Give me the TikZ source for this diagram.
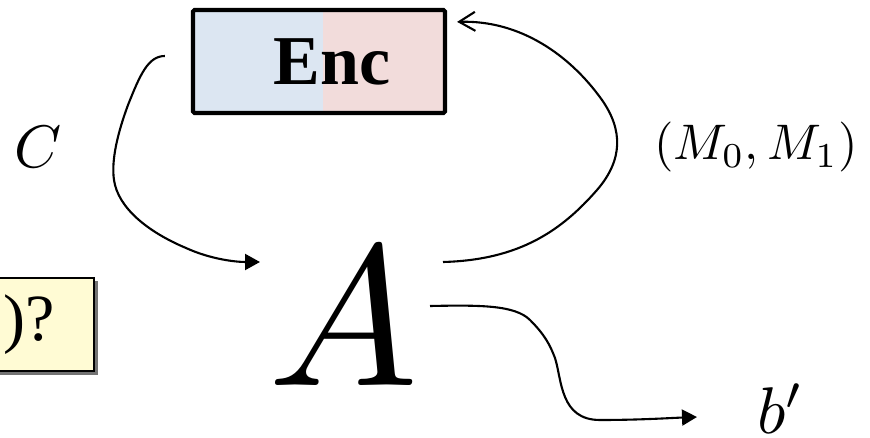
\documentclass[tikz,border=0pt]{standalone}
\usepackage{graphicx}
\usepackage{fontspec}
\setmainfont{Liberation Serif}
\usetikzlibrary{arrows.meta,calc}
\definecolor{encblue}{HTML}{DCE6F2}
\definecolor{encpink}{HTML}{F2DCDB}
\definecolor{qyellow}{HTML}{FFFBD4}
\tikzset{
  conn/.style={line width=2.1pt},
  filledtip/.style={-{Triangle[length=15pt,width=16pt]}},
  opentip/.style={-{Straight Barb[length=16pt,width=19pt,line width=2.1pt]}},
  encbox/.style={draw, line width=4.2pt, rounded corners=1.5pt, minimum width=252pt, minimum height=103pt, inner sep=0pt,
    path picture={
      \fill[encblue] (path picture bounding box.south west) rectangle ($(path picture bounding box.north)+(4,0)$);
      \fill[encpink] ($(path picture bounding box.south)+(4,0)$) rectangle (path picture bounding box.north east);
    }},
  qbox/.style={draw, line width=2pt, fill=qyellow, minimum height=93pt, inner xsep=0pt, inner ysep=0pt},
  mathlbl/.style={inner sep=0pt, anchor=base}
}
\begin{document}
\begin{tikzpicture}[x=1pt,y=-1pt]
\clip (0,0) rectangle (870,438);
\useasboundingbox (0,0) rectangle (870,438);
% Enc box
\node[encbox] (enc) at (319,61.5) {\fontsize{70}{70}\selectfont\hspace*{26pt}\textbf{Enc}};
% big A
\node[mathlbl] (A) at (343,385) {\scalebox{20}{$A$}};
% labels
\node[mathlbl] (C) at (38,168) {\scalebox{6}{$C$}};
\node[mathlbl] (M) at (756,160) {\scalebox{5}{$(M_0, M_1)$}};
\node[mathlbl] (b) at (781,433) {\scalebox{6.6}{$b'$}};
% question box (cut off at left)
\fill[black!55] (-60,281) rectangle (97.5,374.5);
\node[qbox, anchor=east] (q) at (95,324.5) {\fontsize{66}{66}\selectfont\hspace*{80pt})?\hspace*{39pt}};
% connectors
\coordinate (cs) at ($(enc.west)+(-26,-5.5)$);
\coordinate (ce) at ($(A.base)+(-83,-123)$);
\coordinate (ms) at ($(A.base)+(100,-123)$);
\coordinate (me) at ($(enc.north east)+(10,14)$);
\coordinate (bs) at ($(A.base)+(87,-79)$);
\coordinate (be) at ($(b.base)+(-84,-16)$);
\draw[conn, filledtip] (cs) .. controls (148,56) and (140,75) .. (128,105)
   .. controls (118,132) and (111,160) .. (114,180)
   .. controls (118,208) and (148,232) .. (186,248)
   .. controls (210,259) and (235,262) .. (ce);
\draw[conn, opentip] (ms) .. controls (520,260) and (562,230) .. (597,190)
   .. controls (623,160) and (623,130) .. (602,100)
   .. controls (570,55) and (520,20) .. (me);
\draw[conn, filledtip] (bs) .. controls (480,305) and (515,305) .. (530,320)
   .. controls (545,335) and (550,345) .. (555,358)
   .. controls (562,380) and (560,420) .. (600,420)
   .. controls (640,420) and (670,418) .. (be);
\end{tikzpicture}
\end{document}
